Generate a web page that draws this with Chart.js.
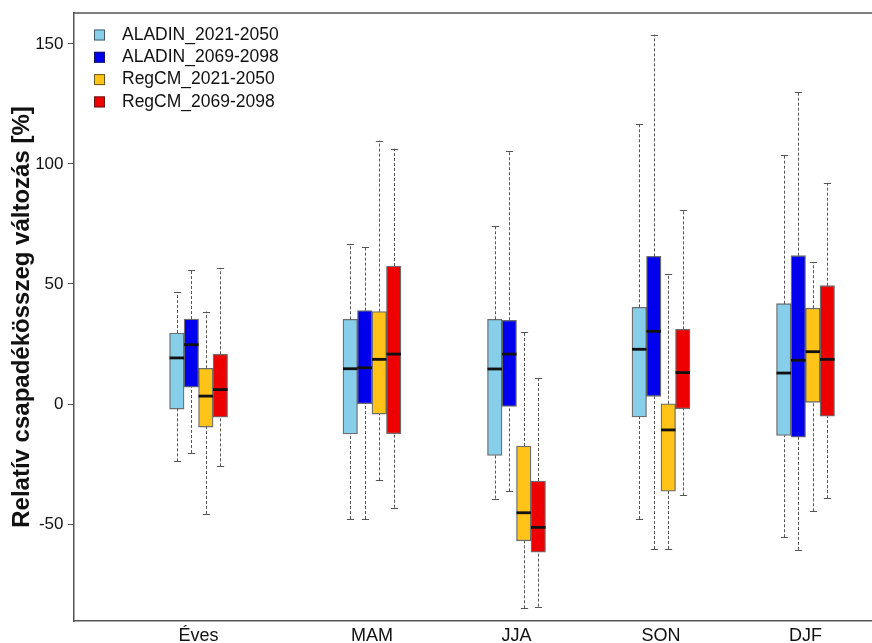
<!DOCTYPE html>
<html lang="hu">
<head>
<meta charset="UTF-8">
<title>Relatív csapadékösszeg változás</title>
<script src="https://cdn.jsdelivr.net/npm/chart.js"></script>
</head>
<body style="margin:0; background:#fff;">
<canvas id="chart" width="872" height="643"></canvas>
<script>
// évszakok és helyük az x tengelyen
const seasons = ['Éves', 'MAM', 'JJA', 'SON', 'DJF'];
const seasonPos = [0.8, 2, 3, 4, 5];
const yTicks = [-50, 0, 50, 100, 150];

const seriesNames = ['ALADIN_2021-2050', 'ALADIN_2069-2098', 'RegCM_2021-2050', 'RegCM_2069-2098'];
const seriesColors = ['#87ceeb', '#0000ee', '#ffc417', '#ee0000'];

// [alsó bajusz, Q1, medián, Q3, felső bajusz] évszakonként
const aladin2021 = [[-23.9, -2.1, 19.2, 29.6, 46.8], [-47.9, -12.5, 14.7, 35.3, 66.7], [-39.4, -21.4, 14.6, 35.3, 74.2], [-47.9, -5.4, 22.8, 40.3, 116.7], [-55.5, -13.1, 12.9, 41.8, 103.9]];
const aladin2069 = [[-20.4, 7.0, 24.7, 35.4, 55.8], [-47.9, 0.1, 15.1, 38.9, 65.5], [-36.4, -1.0, 20.8, 34.9, 105.6], [-60.4, 3.2, 30.3, 61.5, 153.9], [-60.8, -13.8, 18.2, 61.8, 130.0]];
const regcm2021 = [[-45.8, -9.6, 3.3, 14.9, 38.5], [-31.8, -4.2, 18.6, 38.5, 109.7], [-85.1, -57.0, -45.3, -17.5, 30.1], [-60.4, -36.3, -10.8, 0.1, 54.3], [-44.7, 0.7, 21.8, 39.9, 59.2]];
const regcm2069 = [[-26.0, -5.5, 6.0, 20.7, 56.7], [-43.2, -12.4, 20.8, 57.5, 106.4], [-84.4, -61.7, -51.4, -32.1, 10.7], [-38.1, -2.0, 13.1, 31.1, 80.7], [-39.2, -5.1, 18.6, 49.3, 92.1]];
const seriesStats = [aladin2021, aladin2069, regcm2021, regcm2069];

const FONT = '"Liberation Sans", Arial, Helvetica, sans-serif';
const boxBorder = 'rgba(30,30,30,0.65)';

const datasets = seriesNames.map((name, i) => ({
    label: name,
    data: seriesStats[i].map((s, j) => ({ x: seasonPos[j], y: [s[1], s[3]] })),
    backgroundColor: seriesColors[i],
    borderColor: boxBorder,
    borderWidth: 1.3,
    borderSkipped: false,
    barThickness: 14.5
}));

// bajuszok a dobozok alá, mediánok föléjük
const whiskers = {
    id: 'whiskers',
    beforeDatasetsDraw(chart) {
        const ctx = chart.ctx;
        const y = chart.scales.y;
        ctx.save();
        ctx.strokeStyle = '#555';
        ctx.lineWidth = 1;
        chart.data.datasets.forEach((ds, di) => {
            chart.getDatasetMeta(di).data.forEach((bar, j) => {
                const s = seriesStats[di][j];
                const x = Math.round(bar.x) + 0.5;
                ctx.setLineDash([3, 2]);
                ctx.beginPath();
                ctx.moveTo(x, y.getPixelForValue(s[0]));
                ctx.lineTo(x, y.getPixelForValue(s[1]));
                ctx.moveTo(x, y.getPixelForValue(s[3]));
                ctx.lineTo(x, y.getPixelForValue(s[4]));
                ctx.stroke();
                ctx.setLineDash([]);
                const half = bar.width / 4;
                ctx.beginPath();
                [s[0], s[4]].forEach(v => {
                    const py = Math.round(y.getPixelForValue(v)) + 0.5;
                    ctx.moveTo(x - half, py);
                    ctx.lineTo(x + half, py);
                });
                ctx.stroke();
            });
        });
        ctx.restore();
    },
    afterDatasetsDraw(chart) {
        const ctx = chart.ctx;
        const y = chart.scales.y;
        ctx.save();
        ctx.strokeStyle = '#111';
        ctx.lineWidth = 2.8;
        chart.data.datasets.forEach((ds, di) => {
            chart.getDatasetMeta(di).data.forEach((bar, j) => {
                const py = y.getPixelForValue(seriesStats[di][j][2]);
                ctx.beginPath();
                ctx.moveTo(bar.x - bar.width / 2, py);
                ctx.lineTo(bar.x + bar.width / 2, py);
                ctx.stroke();
            });
        });
        ctx.restore();
    }
};

// felső keretvonal és jelmagyarázat a rajzterületen belül
const frameAndLegend = {
    id: 'frameAndLegend',
    afterDraw(chart) {
        const ctx = chart.ctx;
        const a = chart.chartArea;
        ctx.save();
        ctx.strokeStyle = '#555';
        ctx.lineWidth = 1.5;
        ctx.beginPath();
        ctx.moveTo(a.left, a.top);
        ctx.lineTo(a.right, a.top);
        ctx.stroke();

        ctx.font = '17.5px ' + FONT;
        ctx.textBaseline = 'middle';
        ctx.lineWidth = 1;
        chart.data.datasets.forEach((ds, i) => {
            const cy = a.top + 22 + i * 22.3;
            ctx.fillStyle = ds.backgroundColor;
            ctx.fillRect(a.left + 20, cy - 5.5, 11, 11);
            ctx.strokeStyle = boxBorder;
            ctx.strokeRect(a.left + 20.5, cy - 5, 10, 10);
            ctx.fillStyle = '#111';
            ctx.fillText(ds.label, a.left + 48, cy);
        });
        ctx.restore();
    }
};

new Chart(document.getElementById('chart'), {
    type: 'bar',
    data: { datasets: datasets },
    options: {
        responsive: false,
        animation: false,
        devicePixelRatio: 1,
        layout: { padding: { top: 13, right: 0, bottom: 0, left: 0 } },
        plugins: { legend: { display: false }, tooltip: { enabled: false } },
        scales: {
            x: {
                type: 'linear',
                offset: false,
                min: -0.062,
                max: 5.46,
                afterBuildTicks: s => { s.ticks = seasonPos.map(v => ({ value: v })); },
                afterFit: s => { s.height = 22; s.paddingLeft = 0; s.paddingRight = 0; },
                ticks: {
                    callback: (v, i) => seasons[i],
                    font: { family: FONT, size: 18 },
                    color: '#111',
                    padding: 4,
                    maxRotation: 0,
                    autoSkip: false
                },
                grid: { display: false, drawTicks: false },
                border: { display: true, color: '#555', width: 1.5 }
            },
            y: {
                min: -90.4,
                max: 162.9,
                afterBuildTicks: s => { s.ticks = yTicks.map(v => ({ value: v })); },
                afterFit: s => { s.width = 74; s.paddingTop = 0; s.paddingBottom = 0; },
                ticks: { font: { family: FONT, size: 17 }, color: '#111', padding: 4.5 },
                grid: { drawOnChartArea: false, tickLength: 6, color: '#555', lineWidth: 1 },
                border: { color: '#555', width: 1.5 },
                title: {
                    display: true,
                    text: 'Relatív csapadékösszeg változás [%]',
                    font: { family: FONT, size: 24, weight: 'bold' },
                    color: '#111',
                    padding: { top: 8, bottom: 0 }
                }
            }
        }
    },
    plugins: [whiskers, frameAndLegend]
});
</script>
</body>
</html>
